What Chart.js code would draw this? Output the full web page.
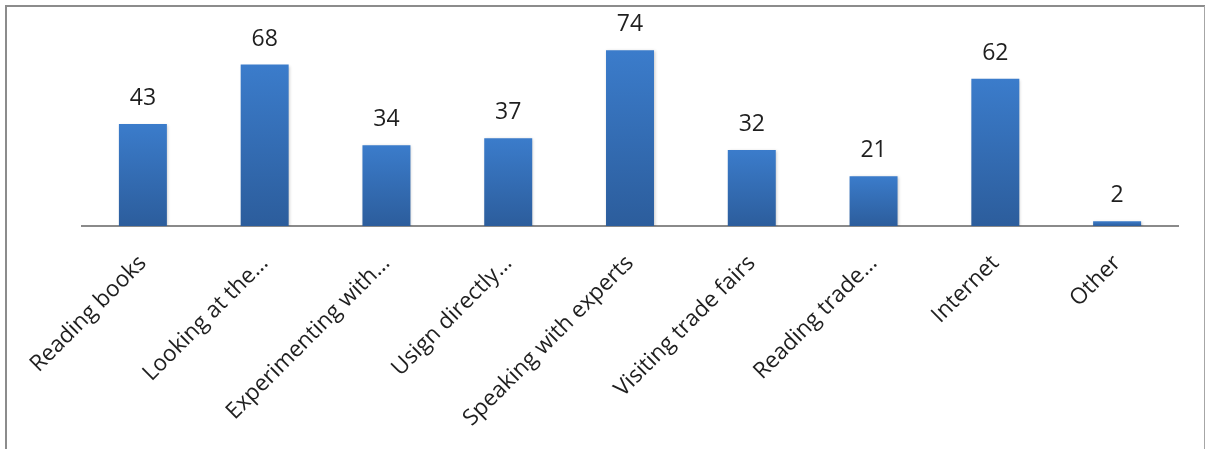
<!DOCTYPE html>
<html>
<head>
<meta charset="utf-8">
<script src="https://cdn.jsdelivr.net/npm/chart.js@4.4.1/dist/chart.umd.min.js"></script>
<style>
  html, body { margin: 0; padding: 0; background: #ffffff; }
  #wrap { width: 1206px; height: 449px; position: relative; }
</style>
</head>
<body>
<div id="wrap"><canvas id="chart" width="1206" height="449"></canvas></div>
<script>
// Sources of information used
const categories = [
  'Reading books',
  'Looking at the…',
  'Experimenting with…',
  'Usign directly…',
  'Speaking with experts',
  'Visiting trade fairs',
  'Reading trade…',
  'Internet',
  'Other'
];
const responses = [43, 68, 34, 37, 74, 32, 21, 62, 2];

const FONT = '"Open Sans", "DejaVu Sans", sans-serif';
const TEXT = '#1f1f1f';

// Vertical blue gradient spanning each bar
function barGradient(ctx) {
  const chart = ctx.chart;
  if (!chart.chartArea || ctx.type !== 'data') return '#3470b8';
  const y = chart.scales.y;
  const top = y.getPixelForValue(ctx.raw);
  const bottom = y.getPixelForValue(0);
  if (!isFinite(top) || !isFinite(bottom) || top === bottom) return '#3470b8';
  const g = chart.ctx.createLinearGradient(0, top, 0, bottom);
  g.addColorStop(0, '#3b7ccb');
  g.addColorStop(1, '#2c5d9c');
  return g;
}

// Soft shadow under the bars
const barShadow = {
  id: 'barShadow',
  beforeDatasetsDraw(chart) {
    const c = chart.ctx;
    c.save();
    c.shadowColor = 'rgba(0,0,0,0.22)';
    c.shadowBlur = 3;
    c.shadowOffsetX = 1;
    c.shadowOffsetY = 1;
  },
  afterDatasetsDraw(chart) {
    chart.ctx.restore();
  }
};

// Value written above each bar
const valueLabels = {
  id: 'valueLabels',
  afterDraw(chart) {
    const c = chart.ctx;
    const meta = chart.getDatasetMeta(0);
    c.save();
    c.font = '23px ' + FONT;
    c.fillStyle = TEXT;
    c.textAlign = 'center';
    c.textBaseline = 'alphabetic';
    meta.data.forEach((bar, i) => {
      c.fillText(String(responses[i]), bar.x, bar.y - 19);
    });
    c.restore();
  }
};

// Outer frame of the chart
const frame = {
  id: 'frame',
  afterDraw(chart) {
    const c = chart.ctx;
    c.save();
    c.strokeStyle = '#8c8c8c';
    c.lineWidth = 2;
    c.beginPath();
    c.moveTo(6, 449);
    c.lineTo(6, 6);
    c.lineTo(1205, 6);
    c.stroke();
    c.strokeStyle = '#a6a6a6';
    c.lineWidth = 1;
    c.beginPath();
    c.moveTo(1204.5, 6);
    c.lineTo(1204.5, 449);
    c.stroke();
    c.restore();
  }
};

new Chart(document.getElementById('chart'), {
  type: 'bar',
  data: {
    labels: categories,
    datasets: [{
      data: responses,
      backgroundColor: barGradient,
      borderWidth: 0,
      categoryPercentage: 1,
      barPercentage: 0.394
    }]
  },
  options: {
    responsive: false,
    animation: false,
    events: [],
    layout: { padding: { left: 82, right: 28, top: 36, bottom: 0 } },
    plugins: {
      legend: { display: false },
      tooltip: { enabled: false }
    },
    scales: {
      x: {
        grid: { display: false, drawTicks: false },
        border: { display: true, color: '#8a8a8a', width: 2 },
        ticks: {
          autoSkip: false,
          minRotation: 45,
          maxRotation: 45,
          padding: 24,
          color: TEXT,
          font: { family: FONT, size: 22.5 }
        },
        afterFit(scale) { scale.height = 449 - 226; }
      },
      y: {
        display: false,
        min: 0,
        max: 80
      }
    }
  },
  plugins: [barShadow, valueLabels, frame]
});
</script>
</body>
</html>
